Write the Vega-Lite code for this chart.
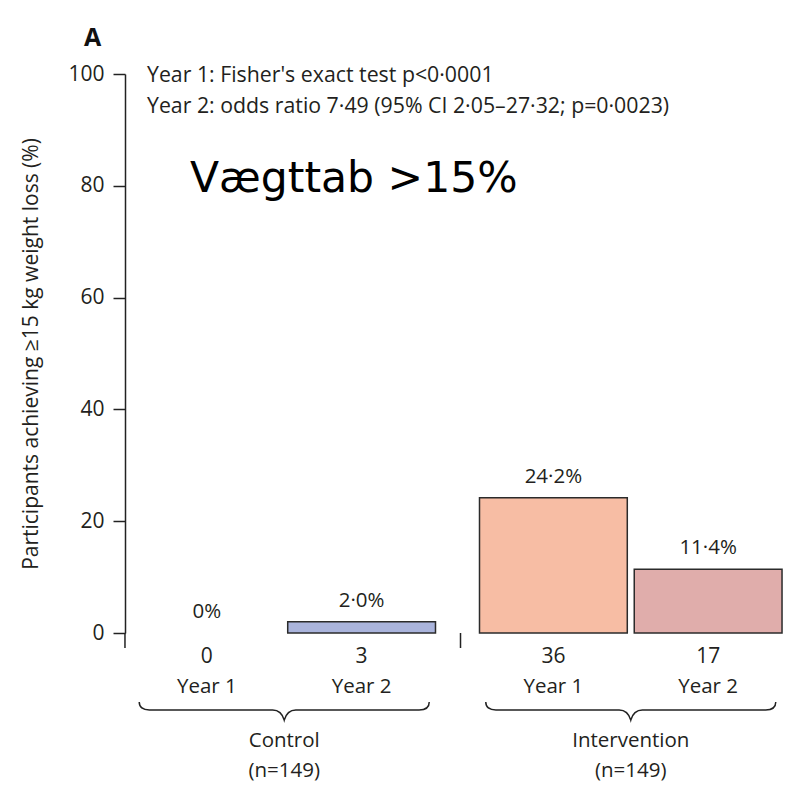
{
  "$schema": "https://vega.github.io/schema/vega-lite/v6.json",
  "width": 665,
  "height": 559,
  "autosize": {"type": "none"},
  "padding": {"left": 125, "top": 74, "right": 7, "bottom": 160},
  "background": "white",
  "config": {"view": {"stroke": null}, "font": "Open Sans"},
  "datasets": {
    "bars": [
      {"group": "Control", "year": "Year 1", "key": "Control Year 1", "pct": 0, "label": "0%", "n": "0"},
      {"group": "Control", "year": "Year 2", "key": "Control Year 2", "pct": 2.0, "label": "2·0%", "n": "3"},
      {"group": "Intervention", "year": "Year 1", "key": "Intervention Year 1", "pct": 24.2, "label": "24·2%", "n": "36"},
      {"group": "Intervention", "year": "Year 2", "key": "Intervention Year 2", "pct": 11.4, "label": "11·4%", "n": "17"}
    ],
    "groups": [
      {"group": "Control", "name": "Control", "size": "(n=149)"},
      {"group": "Intervention", "name": "Intervention", "size": "(n=149)"}
    ],
    "notes": [
      {"line": 1, "text": "Year 1: Fisher's exact test p<0·0001"},
      {"line": 2, "text": "Year 2: odds ratio 7·49 (95% CI 2·05–27·32; p=0·0023)"}
    ],
    "big": [{"text": "Vægttab >15%"}],
    "panel": [{"text": "A"}]
  },
  "data": {"name": "bars"},
  "layer": [
    {
      "transform": [{"filter": "datum.pct > 0"}],
      "mark": {"type": "bar", "stroke": "#2b2b2b", "strokeWidth": 1.5},
      "encoding": {
        "x": {"field": "group", "type": "nominal",
              "scale": {"domain": ["Control", "Intervention"], "paddingInner": 0.127, "paddingOuter": 0.023},
              "axis": {"title": null, "labels": false, "ticks": false, "domain": true, "domainColor": "#222", "domainWidth": 1.5}},
        "xOffset": {"field": "year", "type": "nominal", "scale": {"domain": ["Year 1", "Year 2"], "paddingInner": 0.045, "paddingOuter": 0}},
        "y": {"field": "pct", "type": "quantitative", "scale": {"domain": [0, 100]},
              "axis": {"title": "Participants achieving ≥15 kg weight loss (%)", "values": [0, 20, 40, 60, 80, 100],
                       "grid": false, "tickSize": 12, "tickColor": "#222", "tickWidth": 1.5,
                       "domainColor": "#222", "domainWidth": 1.5,
                       "labelFontSize": 21, "labelColor": "#231f20", "labelPadding": 9,
                       "titleFontSize": 21, "titleFontWeight": "normal", "titleColor": "#231f20", "titlePadding": 26}},
        "color": {"field": "key", "type": "nominal",
                  "scale": {"domain": ["Control Year 1", "Control Year 2", "Intervention Year 1", "Intervention Year 2"],
                            "range": ["#aab4dc", "#aab4dc", "#f7bda4", "#e0adab"]},
                  "legend": null}
      }
    },
    {
      "mark": {"type": "text", "dy": -15, "fontSize": 20.5, "color": "#231f20", "baseline": "alphabetic"},
      "encoding": {
        "x": {"field": "group", "type": "nominal", "axis": null},
        "xOffset": {"field": "year", "type": "nominal"},
        "y": {"field": "pct", "type": "quantitative"},
        "text": {"field": "label"}
      }
    },
    {
      "mark": {"type": "text", "dy": 30, "fontSize": 21, "color": "#231f20", "baseline": "alphabetic"},
      "encoding": {
        "x": {"field": "group", "type": "nominal", "axis": null},
        "xOffset": {"field": "year", "type": "nominal"},
        "y": {"datum": 0},
        "text": {"field": "n"}
      }
    },
    {
      "mark": {"type": "text", "dy": 60, "fontSize": 20.5, "color": "#231f20", "baseline": "alphabetic"},
      "encoding": {
        "x": {"field": "group", "type": "nominal", "axis": null},
        "xOffset": {"field": "year", "type": "nominal"},
        "y": {"datum": 0},
        "text": {"field": "year"}
      }
    },
    {
      "data": {"name": "groups"},
      "mark": {"type": "text", "dy": 114, "fontSize": 20.5, "color": "#231f20", "baseline": "alphabetic"},
      "encoding": {
        "x": {"field": "group", "type": "nominal", "axis": null},
        "y": {"datum": 0},
        "text": {"field": "name"}
      }
    },
    {
      "data": {"name": "groups"},
      "mark": {"type": "text", "dy": 144, "fontSize": 20.5, "color": "#231f20", "baseline": "alphabetic"},
      "encoding": {
        "x": {"field": "group", "type": "nominal", "axis": null},
        "y": {"datum": 0},
        "text": {"field": "size"}
      }
    },
    {
      "data": {"name": "groups"},
      "mark": {"type": "point", "filled": false, "stroke": "#222", "strokeWidth": 1.5, "opacity": 1,
               "size": 84100, "yOffset": 77,
               "shape": "M-1,-0.055 Q-1,0 -0.93,0 L-0.08,0 Q-0.02,0 0,0.07 Q0.02,0 0.08,0 L0.93,0 Q1,0 1,-0.055"},
      "encoding": {
        "x": {"field": "group", "type": "nominal", "axis": null},
        "y": {"datum": 0}
      }
    },
    {
      "data": {"name": "panel"},
      "mark": {"type": "rule", "stroke": "#222", "strokeWidth": 1.5, "xOffset": -8, "y2Offset": 15},
      "encoding": {
        "x": {"datum": "Control", "bandPosition": 0},
        "y": {"datum": 0},
        "y2": {"datum": 0}
      }
    },
    {
      "data": {"name": "panel"},
      "mark": {"type": "rule", "stroke": "#222", "strokeWidth": 1.5, "xOffset": -19, "y2Offset": 15},
      "encoding": {
        "x": {"datum": "Intervention", "bandPosition": 0},
        "y": {"datum": 0},
        "y2": {"datum": 0}
      }
    },
    {
      "data": {"name": "panel"},
      "mark": {"type": "text", "align": "left", "baseline": "alphabetic", "dx": -49, "dy": -28, "fontSize": 25, "fontWeight": "bold", "color": "#111"},
      "encoding": {
        "x": {"datum": "Control", "bandPosition": 0},
        "y": {"datum": 100},
        "text": {"field": "text"}
      }
    },
    {
      "data": {"name": "notes"},
      "transform": [{"filter": "datum.line == 1"}],
      "mark": {"type": "text", "align": "left", "baseline": "alphabetic", "dx": 14, "dy": 8, "fontSize": 21.3, "color": "#231f20"},
      "encoding": {
        "x": {"datum": "Control", "bandPosition": 0},
        "y": {"datum": 100},
        "text": {"field": "text"}
      }
    },
    {
      "data": {"name": "notes"},
      "transform": [{"filter": "datum.line == 2"}],
      "mark": {"type": "text", "align": "left", "baseline": "alphabetic", "dx": 14, "dy": 39, "fontSize": 21.3, "color": "#231f20"},
      "encoding": {
        "x": {"datum": "Control", "bandPosition": 0},
        "y": {"datum": 100},
        "text": {"field": "text"}
      }
    },
    {
      "data": {"name": "big"},
      "mark": {"type": "text", "align": "left", "baseline": "alphabetic", "dx": 57, "dy": 118, "fontSize": 42.5, "font": "DejaVu Sans", "color": "#000"},
      "encoding": {
        "x": {"datum": "Control", "bandPosition": 0},
        "y": {"datum": 100},
        "text": {"field": "text"}
      }
    }
  ]
}
